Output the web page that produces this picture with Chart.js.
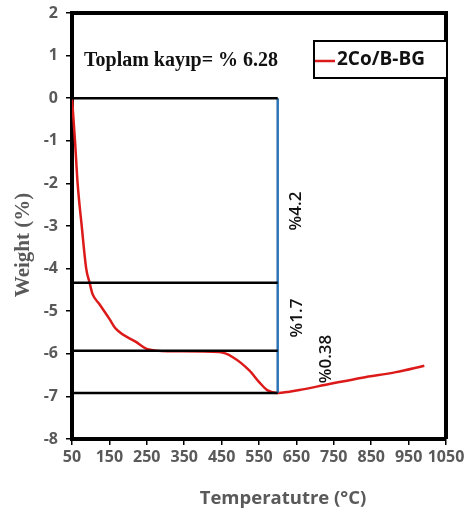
<!DOCTYPE html>
<html>
<head>
<meta charset="utf-8">
<script src="https://cdn.jsdelivr.net/npm/chart.js@4.4.0/dist/chart.umd.min.js"></script>
<style>
  html, body { margin: 0; padding: 0; background: #fff; }
  #wrap { width: 473px; height: 517px; }
</style>
</head>
<body>
<div id="wrap"><canvas id="tga" width="473" height="517"></canvas></div>
<script>
// TGA curve
const temps = [50, 58, 65, 76, 88, 97, 105, 123, 150, 167, 221, 252, 310, 444, 480, 524, 551, 573, 600, 631, 658, 738, 826, 916, 992];
const weights = [0, -1, -2, -3, -4, -4.33, -4.6, -4.83, -5.18, -5.41, -5.72, -5.89, -5.94, -5.96, -6.08, -6.39, -6.67, -6.86, -6.92, -6.89, -6.85, -6.71, -6.56, -6.43, -6.28];

// horizontal step lines and the vertical marker
const stepLevels = [0, -4.33, -5.93, -6.92];
const stepFrom = 50;
const stepTo = 600;

const xTicks = { min: 50, max: 1050, step: 100 };
const yTicks = { min: -8, max: 2, step: 1 };

const seriesName = '2Co/B-BG';
const totalLabel = 'Toplam kayıp= % 6.28';
const lossLabels = ['%4.2', '%1.7', '%0.38'];
const xTitle = 'Temperatutre (°C)';
const yTitle = 'Weight (%)';

const red = '#dc1a1a';
const gray = '#595959';

const datasets = [];
stepLevels.forEach(v => {
    datasets.push({
        data: [{ x: stepFrom, y: v }, { x: stepTo, y: v }],
        borderColor: '#000',
        borderWidth: 2.5,
        pointRadius: 0
    });
});
datasets.push({
    data: [{ x: stepTo, y: stepLevels[0] }, { x: stepTo, y: stepLevels[stepLevels.length - 1] }],
    borderColor: '#2e75b6',
    borderWidth: 2.5,
    pointRadius: 0
});
datasets.push({
    label: seriesName,
    data: temps.map((t, i) => ({ x: t, y: weights[i] })),
    borderColor: red,
    borderWidth: 2.5,
    pointRadius: 0,
    cubicInterpolationMode: 'monotone'
});

const extras = {
    id: 'extras',
    afterDraw(chart) {
        const ctx = chart.ctx;
        const a = chart.chartArea;

        // top and right frame
        ctx.save();
        ctx.strokeStyle = '#000';
        ctx.lineWidth = 4;
        ctx.beginPath();
        ctx.moveTo(a.left, a.top);
        ctx.lineTo(a.right, a.top);
        ctx.lineTo(a.right, a.bottom);
        ctx.stroke();

        // total loss text
        ctx.fillStyle = '#111';
        ctx.font = 'bold 20px "Liberation Serif"';
        ctx.textBaseline = 'alphabetic';
        ctx.fillText(totalLabel, 84, 66);

        // rotated loss labels
        const rot = [[296, 211], [297, 318], [326, 359]];
        ctx.font = '600 17px "Open Sans"';
        ctx.textAlign = 'center';
        ctx.textBaseline = 'middle';
        lossLabels.forEach((s, i) => {
            ctx.save();
            ctx.translate(rot[i][0], rot[i][1]);
            ctx.rotate(-Math.PI / 2);
            ctx.fillText(s, 0, 0);
            ctx.restore();
        });

        // legend box
        ctx.lineWidth = 2;
        ctx.fillStyle = '#fff';
        ctx.fillRect(314, 41, 133, 37);
        ctx.strokeRect(314, 41, 133, 37);
        ctx.strokeStyle = red;
        ctx.lineWidth = 2.5;
        ctx.beginPath();
        ctx.moveTo(315, 61);
        ctx.lineTo(335, 61);
        ctx.stroke();
        ctx.fillStyle = '#111';
        ctx.font = 'bold 19px "Open Sans"';
        ctx.textAlign = 'left';
        ctx.fillText(seriesName, 337, 60);

        // axis titles
        ctx.fillStyle = gray;
        ctx.font = 'bold 18.5px "Open Sans"';
        ctx.textAlign = 'center';
        ctx.fillText(xTitle, 283, 499);

        ctx.save();
        ctx.translate(24, 245);
        ctx.rotate(-Math.PI / 2);
        ctx.font = 'bold 21px "Liberation Serif"';
        ctx.fillText(yTitle, 0, 0);
        ctx.restore();

        ctx.restore();
    }
};

new Chart(document.getElementById('tga'), {
    type: 'line',
    data: { datasets },
    options: {
        responsive: false,
        animation: false,
        devicePixelRatio: 1,
        layout: { padding: { top: 13, right: 27, left: 0, bottom: 0 } },
        plugins: { legend: { display: false }, tooltip: { enabled: false } },
        scales: {
            x: {
                type: 'linear',
                min: xTicks.min,
                max: xTicks.max,
                afterFit(s) { s.height = 78; s.paddingLeft = 0; s.paddingRight = 0; },
                afterBuildTicks(s) {
                    const t = [];
                    for (let v = xTicks.min; v <= xTicks.max; v += xTicks.step) t.push({ value: v });
                    s.ticks = t;
                },
                ticks: { color: gray, font: { family: 'Open Sans', weight: 'bold', size: 16 }, padding: 3, maxRotation: 0, autoSkip: false, callback: v => String(v) },
                grid: { drawOnChartArea: false, drawTicks: true, tickLength: 6, color: '#000', lineWidth: 1.5 },
                border: { color: '#000', width: 4 }
            },
            y: {
                min: yTicks.min,
                max: yTicks.max,
                afterFit(s) { s.width = 72; s.paddingTop = 0; s.paddingBottom = 0; },
                ticks: { stepSize: yTicks.step, color: gray, font: { family: 'Open Sans', weight: 'bold', size: 16 }, padding: 8, callback: v => String(v) },
                grid: { drawOnChartArea: false, drawTicks: true, tickLength: 6, color: '#000', lineWidth: 1.5 },
                border: { color: '#000', width: 4 }
            }
        }
    },
    plugins: [extras]
});
</script>
</body>
</html>
